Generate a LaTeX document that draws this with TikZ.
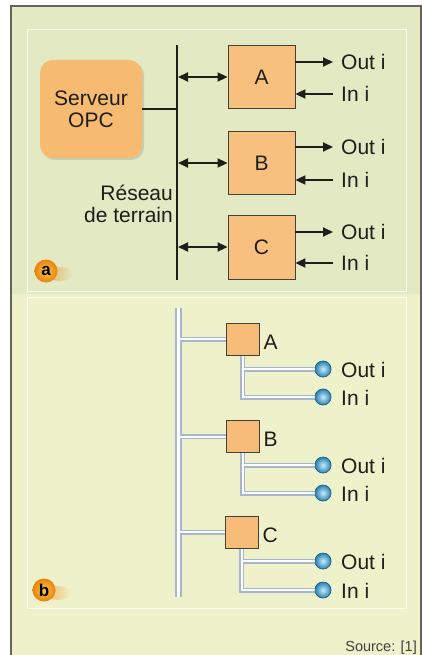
\documentclass[tikz,border=0pt]{standalone}
\usepackage{fontspec}
\setmainfont{Liberation Sans}
\usetikzlibrary{arrows.meta,shadows,calc}
\definecolor{bgA}{RGB}{226,233,195}
\definecolor{bgB}{RGB}{239,241,203}
\definecolor{boxor}{RGB}{247,192,126}
\definecolor{srvor}{RGB}{246,186,112}
\definecolor{pipec}{RGB}{165,182,206}
\definecolor{ink}{RGB}{30,30,26}
\definecolor{framec}{RGB}{100,100,92}
\definecolor{balllight}{RGB}{200,235,248}
\definecolor{balldark}{RGB}{40,130,180}
\definecolor{badgelight}{RGB}{255,200,80}
\definecolor{badgedark}{RGB}{230,130,10}
\newcommand\lblfont{\fontsize{21}{22}\selectfont}
\newcommand\drawpipes[2]{%
  \draw[#1] (bT) -- (bB);
  \foreach \n in {A,B,C}{
    \draw[#2] (bT |- \n b.west) -- (\n b.west);
    \draw[#2] (\n b.south) -- (\n b.south |- i\n b) -- (i\n b.center);
    \draw[#2] (\n b.south |- o\n b) -- (o\n b.center);
  }%
}
\begin{document}
\begin{tikzpicture}[x=1pt,y=-1pt,
  lbl/.style={font=\lblfont, text=ink, inner sep=1pt},
  server/.style={lbl, fill=srvor, rounded corners=13pt, minimum width=102pt, minimum height=98pt, align=center,
     drop shadow={opacity=0.25, shadow xshift=2pt, shadow yshift=-2pt}},
  boxa/.style={lbl, fill=boxor, draw=ink!85, line width=0.8pt, minimum width=67pt},
  boxb/.style={fill=boxor!95!orange, draw=ink!85, line width=0.8pt, minimum width=33pt, minimum height=32pt, inner sep=0pt},
  ball/.style={circle, minimum size=16pt, inner sep=0pt, shade, inner color=balllight, outer color=balldark, draw=balldark!70!black, line width=0.5pt},
  badge/.style={circle, minimum size=23pt, inner sep=0pt, shade, inner color=badgelight, outer color=badgedark,
     font=\fontsize{17}{17}\selectfont\bfseries, text=black},
  arr/.style={ink, line width=1.8pt, -{Triangle[length=10pt,width=9pt]}},
  dbl/.style={ink, line width=1.8pt, {Triangle[length=10pt,width=9pt]}-{Triangle[length=10pt,width=9pt]}},
  outl/.style={lbl, anchor=west, inner xsep=8pt, inner ysep=1pt},
  outb/.style={lbl, anchor=west},
]
\useasboundingbox (0,0) rectangle (422,655);
\fill[white] (0,0) rectangle (422,655);
\fill[bgA] (11,6) rectangle (421,294);
\fill[bgB] (11,294) rectangle (421,655);
\draw[framec, line width=1.4pt] (11,655) -- (11,6) -- (421,6) -- (421,655);
\draw[white, line width=0.8pt, opacity=0.85] (27,29) rectangle (406,291);
\draw[white, line width=0.8pt, opacity=0.85] (27,297) rectangle (406,608);

% ---------- panel a ----------
\node[server] (srv) at (91,109) {Serveur\\OPC};
\coordinate (aT) at (177,45);
\coordinate (aB) at (177,280);
\draw[ink, line width=2.2pt] (aT) -- (aB);
\draw[ink, line width=1.8pt] (srv.east) -- (srv.east -| aT);

\node[boxa, minimum height=63pt] (A) at (261.5,77) {A};
\node[boxa, minimum height=63pt] (B) at (261.5,163) {B};
\node[boxa, minimum height=64pt] (C) at (261.5,247) {C};

\foreach \n in {A,B,C}{
  \draw[dbl] ($(\n.west -| aT)+(1,0)$) -- (\n.west);
}
\node[outl] (oA) at (333,62) {Out i};
\node[outl] (iA) at (333,94) {In i};
\node[outl] (oB) at (333,147) {Out i};
\node[outl] (iB) at (333,180) {In i};
\node[outl] (oC) at (333,232) {Out i};
\node[outl] (iC) at (333,263) {In i};
\foreach \n in {A,B,C}{
  \draw[arr] (\n.east |- o\n.west) -- (o\n.west);
  \draw[arr] (i\n.west) -- (\n.east |- i\n.west);
}
\node[lbl, align=right, anchor=east] (res) at (174,204) {Réseau\\de terrain};

\shade[left color=badgedark!50!bgA, right color=bgA] (60,274) ellipse (13 and 7);
\node[badge] (ba) at (46,271) {a};

% ---------- panel b ----------
\coordinate (bT) at (178.5,308);
\coordinate (bB) at (178.5,597);
\node[boxb] (Ab) at (242.5,339) {};
\node[boxb] (Bb) at (242.5,436.5) {};
\node[boxb] (Cb) at (241.5,532) {};
\node[ball] (oAb) at (323,369) {};
\node[ball] (iAb) at (323,397) {};
\node[ball] (oBb) at (323,465) {};
\node[ball] (iBb) at (323,493) {};
\node[ball] (oCb) at (323,561) {};
\node[ball] (iCb) at (323,590) {};
\drawpipes{pipec, line width=7pt}{pipec, line width=5pt}
\drawpipes{white, line width=3pt}{white, line width=2pt}
\node[boxb] at (Ab) {};
\node[boxb] at (Bb) {};
\node[boxb] at (Cb) {};
\foreach \n in {oAb,iAb,oBb,iBb,oCb,iCb}{
  \node[ball] at (\n) {};
}
\node[outb] (lA) at (Ab.east) [xshift=3pt, yshift=-3pt] {A};
\node[outb] (lB) at (Bb.east) [xshift=3pt, yshift=-3pt] {B};
\node[outb] (lC) at (Cb.east) [xshift=3pt, yshift=-3pt] {C};
\node[outb] (tA1) at (340,370) {Out i};
\node[outb] (tA2) at (340,398) {In i};
\node[outb] (tB1) at (340,466) {Out i};
\node[outb] (tB2) at (340,494) {In i};
\node[outb] (tC1) at (340,562) {Out i};
\node[outb] (tC2) at (340,591) {In i};

\shade[left color=badgedark!50!bgB, right color=bgB] (58,593) ellipse (13 and 7);
\node[badge] (bb) at (44,590) {b};

\node[anchor=east, font=\fontsize{14.5}{15}\selectfont, text=ink!85, inner sep=0pt] (src) at (417,648) {Source: [1]};
\end{tikzpicture}
\end{document}
